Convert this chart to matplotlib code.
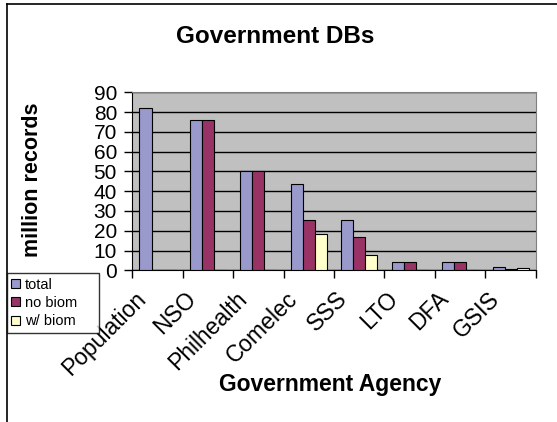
import numpy as np
import matplotlib
matplotlib.use("Agg")
import matplotlib.pyplot as plt
from matplotlib.lines import Line2D
from matplotlib.patches import Patch
from matplotlib.transforms import ScaledTranslation

plt.rcParams['font.family'] = ['Liberation Sans', 'DejaVu Sans']

agencies = ["Population", "NSO", "Philhealth", "Comelec", "SSS", "LTO", "DFA", "GSIS"]
total = [82, 76, 50, 43.5, 25.3, 4, 4, 1.5]
no_biom = [0, 76, 50, 25.3, 16.7, 4, 4, 0.6]
w_biom = [0, 0, 0, 18.4, 7.9, 0, 0, 1.0]

series = [("total", total, "#9999CC"),
          ("no biom", no_biom, "#993366"),
          ("w/ biom", w_biom, "#FFFFCC")]

fig = plt.figure(figsize=(5.57, 4.22), dpi=100)
ax = fig.add_axes([0.2375, 0.3595, 0.7243, 0.4218])
ax.set_facecolor("#C0C0C0")

x = np.arange(len(agencies))
w = 0.238
for i, (name, vals, col) in enumerate(series):
    ax.bar(x + (i - 1) * w, vals, w, color=col, edgecolor="black", linewidth=0.8, zorder=3)

ax.set_xlim(-0.5, len(agencies) - 0.5)
ax.set_ylim(0, 90)
ax.set_yticks(range(0, 91, 10))
ax.yaxis.grid(True, color="black", linewidth=1.0, zorder=1)
ax.tick_params(axis="y", direction="out", length=6, width=1, labelsize=15, pad=5)

ax.set_xticks(x)
ax.set_xticks(np.arange(-0.5, len(agencies)), minor=True)
ax.set_xticklabels(agencies, rotation=45, ha="right", va="center",
                   rotation_mode="anchor", fontsize=16.5)
ax.tick_params(axis="x", which="major", length=0, pad=0)
ax.tick_params(axis="x", which="minor", direction="out", length=6, width=1)
# shift the slanted labels down-left like the original
shift = ScaledTranslation(-0.15, -0.25, fig.dpi_scale_trans)
for lbl in ax.get_xticklabels():
    lbl.set_transform(lbl.get_transform() + shift)

for s in ["top", "right"]:
    ax.spines[s].set_color("#808080")
ax.spines["left"].set_color("black")
ax.spines["bottom"].set_color("black")

fig.text(0.494, 0.914, "Government DBs", ha="center", va="center",
         fontsize=17.5, fontweight="bold")
fig.text(0.592, 0.090, "Government Agency", ha="center", va="center",
         fontsize=16.5, fontweight="bold")
fig.text(0.059, 0.573, "million records", ha="center", va="center",
         rotation=90, fontsize=15.5, fontweight="bold")

handles = [Patch(facecolor=c, edgecolor="black", linewidth=0.8, label=n) for n, _, c in series]
leg = fig.legend(handles=handles, loc="upper left", mode="expand",
                 bbox_to_anchor=(0.0126, 0.2156, 0.165, 0.137),
                 borderaxespad=0, fontsize=10.5, frameon=True, fancybox=False,
                 handlelength=0.6, handleheight=0.6, handletextpad=0.35,
                 borderpad=0.3, labelspacing=0.3)
leg.get_frame().set_edgecolor("black")
leg.get_frame().set_linewidth(1.0)

# outer chart border (top and left edges visible)
fig.add_artist(Line2D([0.0126, 0.0126], [0, 0.991], color="black", linewidth=1.2,
                      transform=fig.transFigure))
fig.add_artist(Line2D([0.0126, 1.0], [0.991, 0.991], color="black", linewidth=1.2,
                      transform=fig.transFigure))

fig.savefig("out.png", dpi=100)
